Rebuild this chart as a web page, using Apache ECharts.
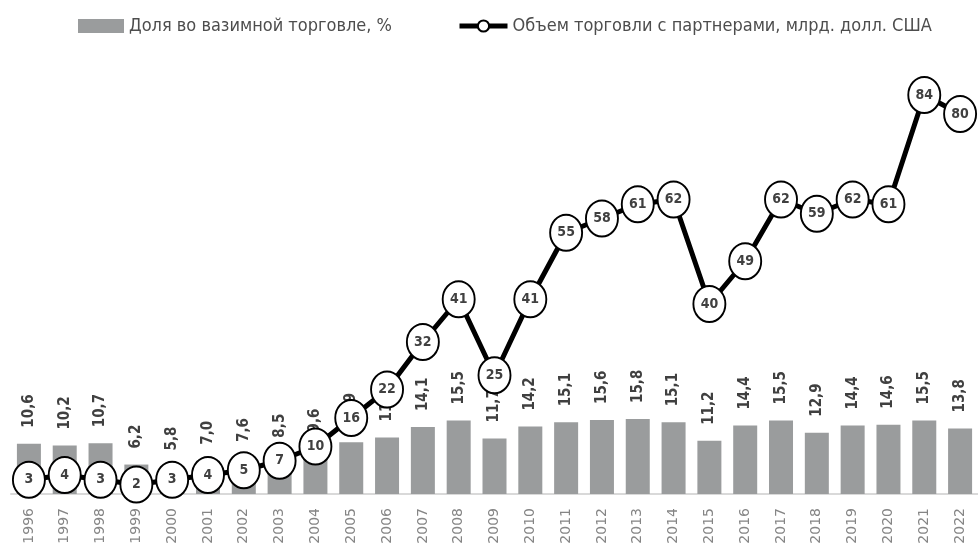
<!DOCTYPE html>
<html>
<head>
<meta charset="utf-8">
<script src="https://cdn.jsdelivr.net/npm/echarts@6/dist/echarts.min.js"></script>
<style>
html,body{margin:0;padding:0;background:#fff;}
#c{width:978px;height:547px;}
</style>
</head>
<body>
<div id="c"></div>
<script>
var years = ['1996','1997','1998','1999','2000','2001','2002','2003','2004','2005','2006','2007','2008','2009','2010','2011','2012','2013','2014','2015','2016','2017','2018','2019','2020','2021','2022'];
var shareValues = [10.6,10.2,10.7,6.2,5.8,7.0,7.6,8.5,9.6,10.9,11.9,14.1,15.5,11.7,14.2,15.1,15.6,15.8,15.1,11.2,14.4,15.5,12.9,14.4,14.6,15.5,13.8];
var tradeValues = [3,4,3,2,3,4,5,7,10,16,22,32,41,25,41,55,58,61,62,40,49,62,59,62,61,84,80];
var shareName = 'Доля во вазимной торговле, %';
var tradeName = 'Объем торговли с партнерами, млрд. долл. США';

var chart = echarts.init(document.getElementById('c'), null, {renderer:'canvas'});
var legendFont = {fontFamily:'DejaVu Sans Condensed', fontSize:18, color:'#4d4d4d'};
chart.setOption({
  animation:false,
  backgroundColor:'#fff',
  legend:[
    {data:[shareName], left:78, top:17, itemWidth:46, itemHeight:14, icon:'rect', textStyle:legendFont, padding:0, itemStyle:{color:'#9a9c9d'}},
    {data:[tradeName], left:457, top:17, itemWidth:48, itemHeight:14, textStyle:legendFont, padding:0,
      lineStyle:{width:5, color:'#000'}, itemStyle:{color:'#fff', borderColor:'#000', borderWidth:2}}
  ],
  grid:{left:11, right:-7, top:19, bottom:53, containLabel:false},
  xAxis:{
    type:'category', data:years, boundaryGap:true,
    axisLine:{lineStyle:{color:'#d9d9d9', width:2}},
    axisTick:{show:false},
    axisLabel:{rotate:90, color:'#858585', fontSize:14, fontFamily:'DejaVu Sans', margin:14}
  },
  yAxis:{type:'value', min:0, max:100, show:false, splitLine:{show:false}},
  series:[
    {
      name:shareName, type:'bar', data:shareValues, barWidth:24,
      itemStyle:{color:'#9a9c9d'},
      label:{show:true, position:'top', rotate:90, align:'left', verticalAlign:'middle', distance:16,
        color:'#404040', fontSize:15, fontWeight:'bold', fontFamily:'DejaVu Sans Condensed',
        formatter:function(p){return p.value.toFixed(1).replace('.',',');}},
      z:2
    },
    {
      name:tradeName, type:'line', data:tradeValues,
      symbol:'circle', symbolSize:[32,36],
      itemStyle:{color:'#fff', borderColor:'#000', borderWidth:2},
      lineStyle:{color:'#000', width:5},
      label:{show:true, position:'inside', color:'#404040', fontSize:14, fontWeight:'bold', fontFamily:'DejaVu Sans Condensed'},
      z:3
    }
  ]
});
</script>
</body>
</html>
